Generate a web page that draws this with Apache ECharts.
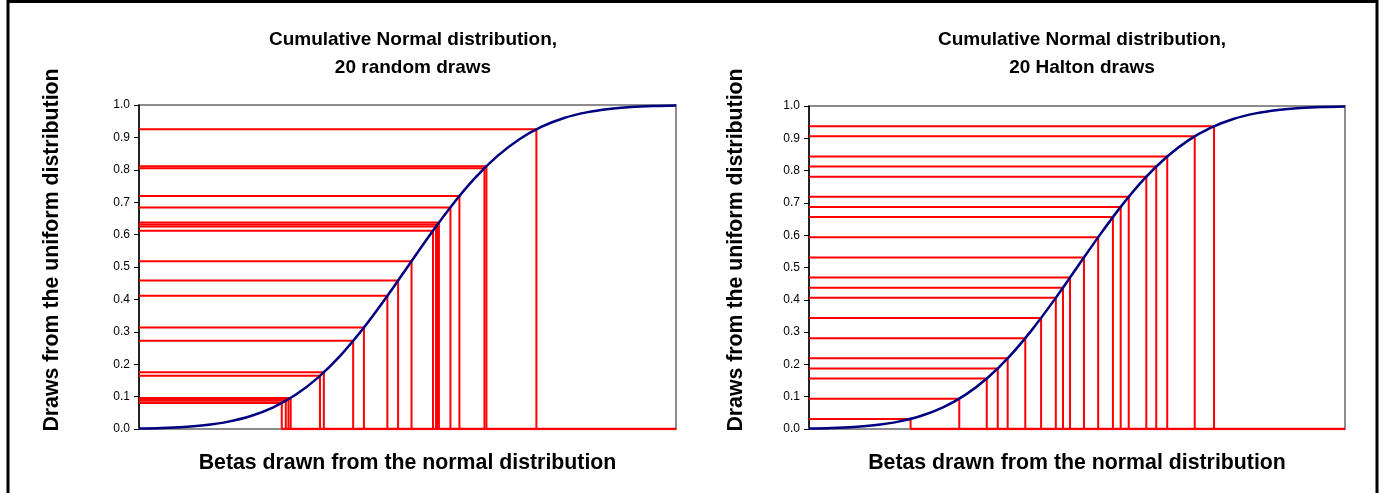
<!DOCTYPE html>
<html>
<head>
<meta charset="utf-8">
<script src="https://cdn.jsdelivr.net/npm/echarts@6/dist/echarts.min.js"></script>
<style>
html,body{margin:0;padding:0;background:#fff;}
#c{width:1386px;height:493px;}
</style>
</head>
<body>
<div id="c"></div>
<script>
// Cumulative normal curve (x, value)
const curveX = [-3,-2.75,-2.5,-2.25,-2,-1.75,-1.5,-1.25,-1,-0.75,-0.5,-0.25,0,0.25,0.5,0.75,1,1.25,1.5,1.75,2,2.25,2.5,2.75,3];
const curveY = [0.0013,0.0030,0.0062,0.0122,0.0228,0.0401,0.0668,0.1056,0.1587,0.2266,0.3085,0.4013,0.5,0.5987,0.6915,0.7734,0.8413,0.8944,0.9332,0.9599,0.9772,0.9878,0.9938,0.9970,0.9987];

// Left panel: 20 random draws
const randomU = [0.080,0.087,0.092,0.096,0.164,0.175,0.272,0.313,0.411,0.458,0.518,0.612,0.625,0.631,0.637,0.684,0.719,0.805,0.811,0.925];
const randomBeta = [-1.405,-1.36,-1.33,-1.305,-0.978,-0.935,-0.607,-0.487,-0.225,-0.105,0.045,0.285,0.319,0.335,0.351,0.480,0.580,0.860,0.882,1.440];

// Right panel: 20 Halton draws
const haltonU = [0.031,0.094,0.156,0.1875,0.219,0.281,0.344,0.406,0.4375,0.469,0.531,0.594,0.656,0.6875,0.719,0.781,0.8125,0.844,0.906,0.9375];
const haltonBeta = [-1.863,-1.318,-1.010,-0.887,-0.776,-0.579,-0.402,-0.237,-0.157,-0.078,0.078,0.237,0.402,0.489,0.579,0.776,0.887,1.010,1.318,1.534];

const yTicks = [0.0,0.1,0.2,0.3,0.4,0.5,0.6,0.7,0.8,0.9,1.0];
const titles = ['Cumulative Normal distribution,\n20 random draws','Cumulative Normal distribution,\n20 Halton draws'];
const xName = 'Betas drawn from the normal distribution';
const yName = 'Draws from the uniform distribution';

const FONT = 'Liberation Sans, Arial, sans-serif';
const XMIN = -3, XMAX = 3;

function drawSeries(idx, us, betas){
  const out = [];
  us.forEach((u,i)=>{
    out.push({
      type:'line', xAxisIndex:idx, yAxisIndex:idx, symbol:'none', silent:true,
      lineStyle:{color:'#ff0000', width:2}, z:2, animation:false,
      data:[[XMIN,u],[betas[i],u],[betas[i],0]]
    });
  });
  out.push({
    type:'line', xAxisIndex:idx, yAxisIndex:idx, symbol:'none', silent:true,
    lineStyle:{color:'#ff0000', width:2.5}, z:2, animation:false,
    data:[[Math.min(...betas),0],[XMAX,0]]
  });
  out.push({
    type:'line', xAxisIndex:idx, yAxisIndex:idx, symbol:'none', silent:true,
    smooth:0.35,
    lineStyle:{color:'#000080', width:2.5}, z:3, animation:false,
    data: curveX.map((x,i)=>[x,curveY[i]])
  });
  return out;
}

const grids = [
  {left:139, width:537, top:105, height:324},
  {left:809, width:536, top:106, height:323}
];
const yTitleX = [52, 736];

const chart = echarts.init(document.getElementById('c'), null, {renderer:'canvas'});
chart.setOption({
  animation:false,
  backgroundColor:'#fff',
  title: titles.map((t,i)=>({
    text:t, left: i===0 ? 408 : 1077, top:21, textAlign:'center',
    textStyle:{fontFamily:FONT, fontSize:19, fontWeight:'bold', color:'#000', lineHeight:28}
  })),
  grid: grids.map(g=>Object.assign({show:true, borderColor:'#8c8c8c', borderWidth:2, backgroundColor:'#fff'}, g)),
  xAxis: [0,1].map(i=>({
    gridIndex:i, type:'value', min:XMIN, max:XMAX,
    axisLine:{show:true, onZero:false, lineStyle:{color:'#8c8c8c', width:2}},
    axisTick:{show:false}, axisLabel:{show:false}, splitLine:{show:false},
    name:xName, nameLocation:'middle', nameGap:24,
    nameTextStyle:{fontFamily:FONT, fontSize:21.3, fontWeight:'bold', color:'#000'}
  })),
  yAxis: [0,1].map(i=>({
    gridIndex:i, type:'value', min:0, max:1, interval:0.1,
    axisLine:{show:true, onZero:false, lineStyle:{color:'#000', width:1.5}},
    axisTick:{show:true, length:5, inside:false, lineStyle:{color:'#000', width:1}},
    axisLabel:{show:true, margin:9, fontFamily:FONT, fontSize:12, color:'#000',
      formatter:(v)=>{ const m = yTicks.find(t=>Math.abs(t-v)<1e-6); return (m!==undefined?m:v).toFixed(1);} },
    splitLine:{show:false}
  })),
  graphic:[
    {type:'rect', shape:{x:8, y:1.5, width:1369, height:600}, style:{fill:'none', stroke:'#000', lineWidth:3}, z:100, silent:true}
  ].concat(yTitleX.map(x=>({
    type:'text', x:x, y:250, rotation:Math.PI/2, silent:true, z:50,
    style:{text:yName, fontFamily:FONT, fontSize:21.3, fontWeight:'bold', fill:'#000', align:'center', verticalAlign:'middle'}
  }))),
  series: [].concat(drawSeries(0, randomU, randomBeta), drawSeries(1, haltonU, haltonBeta))
});
</script>
</body>
</html>
